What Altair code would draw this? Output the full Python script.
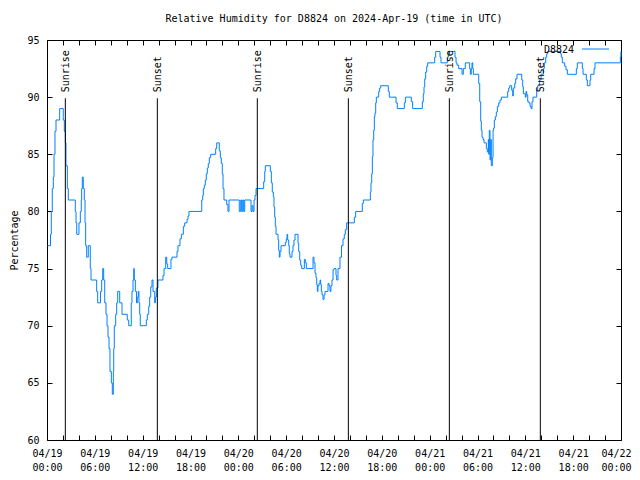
import altair as alt
import pandas as pd

# ---- data (hours since 2024-04-19 00:00 UTC, relative humidity %) ----
day1_hours = [0.05, 0.44, 0.54, 0.66, 0.79, 0.88, 1.00, 1.13, 1.59, 2.04, 2.17, 2.30, 2.38, 2.55, 2.67,
              3.55, 3.64, 3.73, 4.01, 4.18, 4.30, 4.35, 4.43, 4.55, 4.68, 4.77, 4.85, 4.98, 5.18, 5.43,
              5.52, 6.23, 6.36, 6.71, 6.86, 6.99, 7.11, 7.24, 7.40, 7.53, 7.65, 7.78, 7.90, 8.07, 8.19,
              8.32, 8.37, 8.44, 8.62, 8.74, 8.87, 9.12, 9.41, 10.07, 10.25, 10.57, 10.66, 10.79, 10.88,
              10.95, 11.08, 11.23, 11.33, 11.45, 11.54, 11.63, 11.70, 12.46, 12.58, 12.76, 12.88, 13.01,
              13.17, 13.30, 13.51, 13.59, 13.71, 13.92, 14.55, 14.68, 14.89, 15.02, 15.14, 15.55, 15.68,
              16.31, 16.43, 16.68, 16.85, 17.10, 17.27, 17.56, 17.69, 17.81, 19.41, 19.53, 19.61, 19.73,
              19.86, 19.98, 20.11, 20.23, 20.36, 20.53, 21.16, 21.29, 21.61, 21.74, 21.86, 21.99, 22.08,
              22.20, 22.54, 22.70, 22.83]
day1_rh = [77, 78, 80, 82, 83, 85, 87, 88, 89, 88, 87, 86, 84, 82, 81,
           80, 79, 78, 79, 80, 81, 82, 83, 82, 81, 79, 77, 76, 77, 75,
           74, 73, 72, 73, 74, 75, 74, 72, 71, 70, 69, 68, 66, 65, 64,
           66, 68, 70, 71, 72, 73, 72, 71, 70.5, 70, 72, 73, 74, 75,
           74, 73, 72, 72.5, 73, 72, 71, 70, 70.5, 71, 71.7, 72.5, 73.4,
           74, 73, 72, 72.5, 73.3, 74, 74.4, 75, 76, 75.4, 75, 75.8, 76,
           76.5, 77, 77.6, 78, 78.7, 79, 79.3, 79.6, 80, 81, 81.4, 82, 82.3,
           82.75, 83.3, 83.8, 84.2, 84.7, 85, 85.5, 86, 85.3, 84.7, 84.2, 83.3, 82,
           81, 80.6, 80, 81]

day2_hours = [24.12, 24.30, 24.42, 24.55, 24.67, 24.80, 25.59, 25.72, 25.84, 25.97, 26.09, 26.22, 27.18,
              27.31, 27.38, 28.01, 28.14, 28.26, 28.39, 28.47, 28.56, 28.64, 28.73, 28.98, 29.06, 29.14,
              29.23, 29.35, 29.89, 30.02, 30.11, 30.19, 30.32, 30.39, 30.48, 30.73, 30.86, 30.98, 31.11,
              31.49, 31.57, 31.70, 31.82, 31.95, 32.28, 32.40, 32.53, 33.37, 33.49, 33.62, 33.74, 33.83,
              33.91, 33.99, 34.12, 34.25, 34.33, 34.41, 34.50, 34.62, 34.75, 34.87, 35.25, 35.37, 35.50,
              35.62, 35.75, 35.88, 36.00, 36.25, 36.34, 36.50, 36.75, 36.94, 37.13, 37.29, 37.42, 37.59,
              38.55, 38.72, 39.55, 39.68, 40.56, 40.64, 40.73, 40.81, 40.89, 40.98, 41.06, 41.14, 41.23,
              41.31, 41.61, 41.73, 41.86, 42.81, 42.94, 43.78, 43.94, 44.82, 44.95, 45.70, 45.87, 47.08,
              47.20, 47.29, 47.38, 47.50, 47.63, 47.75]
day2_rh = [80, 81, 80, 81, 80, 81, 80, 80.5, 80, 81, 81.4, 82, 82.6,
           83.5, 84, 83.5, 82.5, 81.7, 81.3, 80.4, 79.5, 78.7, 78, 77.5, 76.6, 76,
           76.5, 77, 77.3, 77.6, 78, 77.5, 77, 76.3, 76, 76.5, 77, 77.5, 78,
           77.2, 76.5, 75.75, 75.3, 75, 75.8, 75.5, 75, 76, 75.5, 74.6, 74.2, 73.6,
           73, 73.5, 73.7, 74, 73.6, 73, 72.7, 72.3, 72.7, 73, 73.7, 73.5, 73,
           73.5, 74, 74.9, 75, 74.4, 74, 75, 76, 77, 77.6, 78, 78.4, 79,
           79.5, 80, 80.7, 81, 81.7, 82.5, 83.3, 84.8, 86.25, 87.1, 88.3, 88.6, 89.5,
           90, 90.5, 90.8, 91, 90.5, 90, 89.5, 89, 89.5, 90, 89.6, 89, 89.6,
           90.3, 90.9, 91.6, 92.2, 92.7, 93]

day3_hours = [48.63, 48.76, 49.30, 49.42, 50.21, 50.34, 51.18, 51.31, 51.43, 51.64, 52.06, 52.22, 52.47,
              53.02, 53.10, 53.22, 53.31, 53.40, 53.48, 54.15, 54.28, 54.40, 54.48, 54.57, 54.69, 54.82,
              55.11, 55.23, 55.36, 55.41, 55.48, 55.57, 55.66, 55.73, 55.86, 55.95, 56.03, 56.11, 56.24,
              56.36, 56.49, 56.66, 56.82, 56.99, 57.79, 57.92, 58.04, 58.29, 58.42, 58.49, 58.67, 58.79,
              58.96, 59.55, 59.67, 59.75, 60.00, 60.09, 60.17, 60.30, 60.46, 60.59, 60.71, 60.84, 60.96,
              61.43, 61.55, 61.80, 61.97, 62.26, 62.38, 62.56, 62.68, 62.81, 64.39, 64.51, 64.64, 64.94,
              65.10, 65.27, 66.40, 66.52, 67.15, 67.24, 67.65, 67.78, 68.11, 68.20, 68.62, 68.74, 71.92,
              71.99]
day3_rh = [93.5, 94, 93.5, 93, 93.5, 94, 93.5, 93, 92.8, 92.5, 92, 92.5, 93,
           92.5, 92, 92.5, 93, 92.5, 92, 91.2, 89.6, 87.9, 87.1, 86.5, 86.3, 86,
           85.5, 85.2, 86.3, 85, 87.1, 84.5, 86.3, 84, 84.7, 87.1, 87.3, 88, 88.3,
           88.7, 89.2, 89.5, 89.75, 90, 90.5, 90.8, 91, 90.6, 90.1, 90.8, 91.2, 91.6,
           92, 91.5, 90.9, 90.3, 90, 90.5, 90.2, 89.6, 89.5, 89.2, 89, 89.6, 90,
           90.6, 91, 91.5, 92, 92.5, 93, 93.5, 93.8, 94, 93.8, 93.5, 93, 92.7,
           92.4, 92, 92.5, 93, 92.5, 92, 91.5, 91, 91.5, 92, 92.5, 93, 93.5,
           94]

sunrise_hours = [2.30, 26.38, 50.47]
sunset_hours = [13.84, 37.80, 61.88]
marker_bottom = 60
marker_top = 89.9
y_ticks = [60, 65, 70, 75, 80, 85, 90, 95]
station = "D8824"

FONT = "DejaVu Sans Mono"
LINE_COLOR = "#0080ff"

base = pd.Timestamp("2024-04-19T00:00:00Z")


def iso(h):
    return (base + pd.Timedelta(hours=h)).strftime("%Y-%m-%dT%H:%M:%SZ")


hours = day1_hours + day2_hours + day3_hours
rh = day1_rh + day2_rh + day3_rh
df = pd.DataFrame({"time": [iso(h) for h in hours], "rh": rh, "series": station})

ev_hours = sunrise_hours + sunset_hours
ev = pd.DataFrame({
    "time": [iso(h) for h in ev_hours],
    "label": ["Sunrise"] * len(sunrise_hours) + ["Sunset"] * len(sunset_hours),
    "lo": marker_bottom,
    "hi": marker_top,
})
key = pd.DataFrame({"series": [station]})

base_ms = int(base.timestamp() * 1000)
end_ms = base_ms + 72 * 3600000
x_tick_values = [base_ms + h * 3600000 for h in range(0, 73, 2)]
x_scale = alt.Scale(type="utc", domain=[base_ms, end_ms])
y_scale = alt.Scale(domain=[60, 95])

common_axis = dict(domain=False, grid=False, tickSize=5, offset=-5, tickColor="black",
                   tickWidth=1, labelColor="black", labelFont=FONT, labelFontSize=10)

x_bottom = alt.Axis(orient="bottom", values=x_tick_values, title=None,
                    labelExpr="utchours(datum.value) % 6 == 0 ? [utcFormat(datum.value, '%m/%d'), utcFormat(datum.value, '%H:%M')] : ''",
                    labelOverlap=False, labelFlush=False, labelPadding=8, labelLineHeight=14,
                    labelBaseline="top",
                    labelOffset={"condition": {"test": f"datum.value >= {end_ms}", "value": -5}, "value": 0},
                    **common_axis)
x_top = alt.Axis(orient="top", values=x_tick_values, title=None, labels=False, **common_axis)
y_left = alt.Axis(orient="left", values=y_ticks, title="Percentage", titleFont=FONT, titleFontSize=10,
                  titleFontWeight="normal", titleColor="black", titlePadding=7, labelPadding=8,
                  **common_axis)
y_right = alt.Axis(orient="right", values=y_ticks, title=None, labels=False, **common_axis)

lines = alt.Chart(df).mark_line(interpolate="step-after", strokeWidth=1, color=LINE_COLOR).encode(
    x=alt.X("time:T", scale=x_scale, axis=x_bottom),
    y=alt.Y("rh:Q", scale=y_scale, axis=y_left),
)

rules = alt.Chart(ev).mark_rule(color="black", strokeWidth=1).encode(
    x=alt.X("time:T", scale=x_scale, axis=x_top),
    y=alt.Y("lo:Q", scale=y_scale, axis=y_right),
    y2="hi:Q",
)

labels = alt.Chart(ev).mark_text(angle=270, align="left", baseline="middle", dx=6, dy=1,
                                 font=FONT, fontSize=10, color="black").encode(
    x=alt.X("time:T", scale=x_scale, axis=None),
    y=alt.Y("hi:Q", scale=y_scale, axis=None),
    text="label:N",
)

# key (gnuplot style: label on the left, line sample on the right, inside top-right)
key_text = alt.Chart(key).mark_text(align="right", baseline="middle", font=FONT, fontSize=10,
                                    color="black").encode(
    x=alt.value(527), y=alt.value(10), text="series:N")
key_line = alt.Chart(key).mark_rule(color=LINE_COLOR, strokeWidth=1).encode(
    x=alt.value(535), x2=alt.value(562), y=alt.value(9))

chart = alt.layer(lines, rules, labels, key_text, key_line).resolve_axis(
    x="independent", y="independent"
).properties(
    width=574, height=400,
    padding={"left": 39, "top": 32, "right": 11, "bottom": 32},
    autosize=alt.AutoSizeParams(type="none"),
    title=alt.TitleParams(f"Relative Humidity for {station} on 2024-Apr-19 (time in UTC)",
                          font=FONT, fontSize=10, fontWeight="normal", color="black",
                          anchor="middle", frame="group", offset=11),
).configure_view(stroke="black", strokeWidth=1)

chart.save("out.html", embed_options={"renderer": "svg", "actions": False})
